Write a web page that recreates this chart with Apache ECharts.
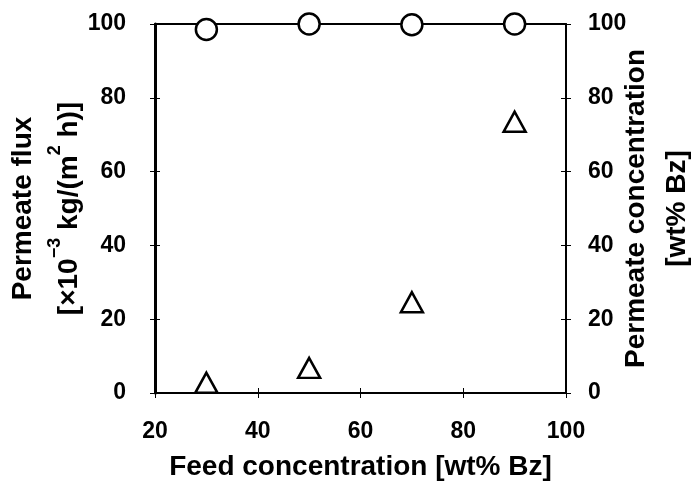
<!DOCTYPE html>
<html lang="en">
<head>
    <meta charset="UTF-8">
    <title>Permeate flux / concentration</title>
    <script src="https://cdn.jsdelivr.net/npm/echarts@6/dist/echarts.min.js"></script>
    <style>
        html, body { margin: 0; padding: 0; background: #fff; }
        #main { width: 694px; height: 484px; }
    </style>
</head>
<body>
<div id="main"></div>

<script>
    // feed concentration [wt% Bz]
    var feed = [30, 50, 70, 90];
    // permeate flux [x10^-3 kg/(m2 h)] (triangles, left axis)
    var flux = [2.8, 6.8, 24.6, 73.5];
    // permeate concentration [wt% Bz] (circles, right axis)
    var permConc = [98.5, 100, 99.8, 100];

    var xTicks = [20, 40, 60, 80, 100];
    var yTicks = [0, 20, 40, 60, 80, 100];

    var font = 'Liberation Sans, Arial, sans-serif';
    var black = '#000';

    function pairs(xs, ys) {
        return xs.map(function (x, i) { return [x, ys[i]]; });
    }

    var gridBox = {left: 155, right: 128, top: 24, bottom: 91, outerBoundsMode: 'none'};

    var myChart = echarts.init(document.getElementById('main'));

    // tick marks cross the axis: outer half on grid 0, inner half on grid 1
    function xAx(grid, pos, opts) {
        return Object.assign({
            gridIndex: grid,
            type: 'value',
            position: pos,
            min: xTicks[0], max: xTicks[xTicks.length - 1], interval: 20,
            axisLine: {show: false, onZero: false},
            axisTick: {show: false},
            axisLabel: {show: false},
            splitLine: {show: false}
        }, opts);
    }

    function yAx(grid, pos, opts) {
        return Object.assign({
            gridIndex: grid,
            type: 'value',
            position: pos,
            min: yTicks[0], max: yTicks[yTicks.length - 1], interval: 20,
            axisLine: {show: false, onZero: false},
            axisTick: {show: false},
            axisLabel: {show: false},
            splitLine: {show: false}
        }, opts);
    }

    var tickOut = {show: true, inside: false, length: 5, lineStyle: {color: black, width: 1}};
    var tickIn = {show: true, inside: true, length: 5, lineStyle: {color: black, width: 1}};
    var tickLabel = {show: true, color: black, fontFamily: font, fontWeight: 'bold', fontSize: 23};

    var option = {
        backgroundColor: '#fff',
        animation: false,
        grid: [Object.assign({}, gridBox), Object.assign({}, gridBox)],
        xAxis: [
            xAx(0, 'bottom', {
                axisLine: {show: true, onZero: false, lineStyle: {color: black, width: 2}},
                axisTick: tickOut,
                axisLabel: Object.assign({margin: 27}, tickLabel),
                name: 'Feed concentration [wt% Bz]',
                nameLocation: 'middle',
                nameMoveOverlap: false,
                nameGap: 60,
                nameTextStyle: {color: black, fontFamily: font, fontWeight: 'bold', fontSize: 28}
            }),
            xAx(0, 'top', {
                axisLine: {show: true, onZero: false, lineStyle: {color: black, width: 2}}
            }),
            xAx(1, 'bottom', {axisTick: tickIn})
        ],
        yAxis: [
            yAx(0, 'left', {
                axisLine: {show: true, onZero: false, lineStyle: {color: black, width: 3}},
                axisTick: tickOut,
                axisLabel: Object.assign({margin: 29}, tickLabel),
                name: '{a|Permeate flux}\n{a|[×10}{s|−3}{a| kg/(m}{s|2}{a| h)]}',
                nameLocation: 'middle',
                nameRotate: 90,
                nameMoveOverlap: false,
                nameGap: 63,
                nameTextStyle: {
                    color: black,
                    rich: {
                        a: {color: black, fontFamily: font, fontWeight: 'bold', fontSize: 28, lineHeight: 46},
                        s: {color: black, fontFamily: font, fontWeight: 'bold', fontSize: 18, lineHeight: 46, verticalAlign: 'top'}
                    }
                }
            }),
            yAx(0, 'right', {
                axisLine: {show: true, onZero: false, lineStyle: {color: black, width: 2}},
                axisTick: tickOut,
                axisLabel: Object.assign({margin: 22}, tickLabel),
                name: 'Permeate concentration\n[wt% Bz]',
                nameLocation: 'middle',
                nameRotate: 90,
                nameMoveOverlap: false,
                nameGap: 50,
                nameTextStyle: {color: black, fontFamily: font, fontWeight: 'bold', fontSize: 28, lineHeight: 41}
            }),
            yAx(1, 'left', {axisTick: tickIn}),
            yAx(1, 'right', {axisTick: tickIn})
        ],
        series: [
            {
                name: 'Permeate flux',
                type: 'scatter',
                xAxisIndex: 0,
                yAxisIndex: 0,
                symbol: 'triangle',
                symbolSize: [22, 20],
                itemStyle: {color: '#fff', borderColor: black, borderWidth: 2.5, opacity: 1},
                data: pairs(feed, flux),
                z: 5
            },
            {
                name: 'Permeate concentration',
                type: 'scatter',
                xAxisIndex: 0,
                yAxisIndex: 1,
                symbol: 'circle',
                symbolSize: 21,
                itemStyle: {color: '#fff', borderColor: black, borderWidth: 2.5, opacity: 1},
                data: pairs(feed, permConc),
                z: 5
            }
        ]
    };

    myChart.setOption(option, true);
</script>
</body>
</html>
